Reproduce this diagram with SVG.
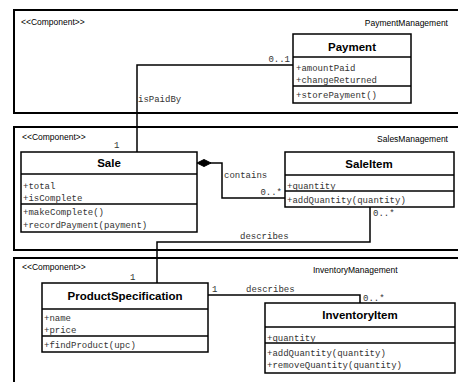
<svg xmlns="http://www.w3.org/2000/svg" width="458" height="382" viewBox="0 0 458 382">
<style>
.comp{fill:#fff;stroke:#000;stroke-width:2}
.cls{fill:#fff;stroke:#000;stroke-width:1.5}
.sep{stroke:#000;stroke-width:1.5}
.st{font-family:"Liberation Sans",Arial,sans-serif;font-size:8.5px;fill:#000}
.nm{font-family:"Liberation Sans",Arial,sans-serif;font-size:11.5px;font-weight:bold;fill:#000;text-anchor:middle}
.at{font-family:"Liberation Mono","Courier New",monospace;font-size:9px;fill:#333}
.lbl{font-family:"Liberation Mono","Courier New",monospace;font-size:9px;fill:#333}
.ln{fill:none;stroke:#000;stroke-width:1.5}
</style>
<g id="PaymentManagement">
<rect class="comp" x="14" y="10" width="460" height="103"/>
<text class="st" x="21" y="25">&lt;&lt;Component&gt;&gt;</text>
<text class="st" x="448" y="26" text-anchor="end">PaymentManagement</text>
</g>
<g id="SalesManagement">
<rect class="comp" x="14" y="127" width="460" height="123"/>
<text class="st" x="22" y="140">&lt;&lt;Component&gt;&gt;</text>
<text class="st" x="448" y="142" text-anchor="end">SalesManagement</text>
</g>
<g id="InventoryManagement">
<rect class="comp" x="14" y="258" width="460" height="140"/>
<text class="st" x="22" y="270">&lt;&lt;Component&gt;&gt;</text>
<text class="st" x="313" y="273">InventoryManagement</text>
</g>
<g id="connectors">
<polyline class="ln" points="293,65 137,65 137,152"/>
<text class="lbl" x="290" y="62" text-anchor="end">0..1</text>
<text class="lbl" x="138" y="102">isPaidBy</text>
<text class="lbl" x="114" y="148">1</text>
<polyline class="ln" points="210,163 222,163 222,198 285,198"/>
<polygon points="197,163 204,159.5 211,163 204,166.5" fill="#000" stroke="#000" stroke-width="1"/>
<text class="lbl" x="224" y="178">contains</text>
<text class="lbl" x="282" y="195" text-anchor="end">0..*</text>
<polyline class="ln" points="370,207 370,242 157,242 157,283"/>
<text class="lbl" x="373" y="216">0..*</text>
<text class="lbl" x="240" y="239">describes</text>
<text class="lbl" x="130" y="280">1</text>
<polyline class="ln" points="208,295 360,295 360,303"/>
<text class="lbl" x="212" y="292">1</text>
<text class="lbl" x="246" y="292">describes</text>
<text class="lbl" x="363" y="301">0..*</text>
</g>
<g id="Payment">
<rect class="cls" x="293" y="34" width="118" height="69"/>
<line class="sep" x1="293" y1="57" x2="411" y2="57"/>
<line class="sep" x1="293" y1="86" x2="411" y2="86"/>
<text class="nm" x="352" y="51">Payment</text>
<text class="at" x="296" y="71">+amountPaid</text>
<text class="at" x="296" y="83">+changeReturned</text>
<text class="at" x="296" y="98">+storePayment()</text>
</g>
<g id="Sale">
<rect class="cls" x="21" y="152" width="176" height="80"/>
<line class="sep" x1="21" y1="174" x2="197" y2="174"/>
<line class="sep" x1="21" y1="204" x2="197" y2="204"/>
<text class="nm" x="109" y="167">Sale</text>
<text class="at" x="23" y="189">+total</text>
<text class="at" x="23" y="201">+isComplete</text>
<text class="at" x="23" y="215">+makeComplete()</text>
<text class="at" x="23" y="228">+recordPayment(payment)</text>
</g>
<g id="SaleItem">
<rect class="cls" x="285" y="152" width="169" height="55"/>
<line class="sep" x1="285" y1="175" x2="454" y2="175"/>
<line class="sep" x1="285" y1="191" x2="454" y2="191"/>
<text class="nm" x="369" y="168">SaleItem</text>
<text class="at" x="287" y="189">+quantity</text>
<text class="at" x="287" y="203">+addQuantity(quantity)</text>
</g>
<g id="ProductSpecification">
<rect class="cls" x="42" y="283" width="166" height="69"/>
<line class="sep" x1="42" y1="309" x2="208" y2="309"/>
<line class="sep" x1="42" y1="336" x2="208" y2="336"/>
<text class="nm" x="125" y="300">ProductSpecification</text>
<text class="at" x="44" y="321">+name</text>
<text class="at" x="44" y="333">+price</text>
<text class="at" x="44" y="348">+findProduct(upc)</text>
</g>
<g id="InventoryItem">
<rect class="cls" x="265" y="303" width="190" height="70"/>
<line class="sep" x1="265" y1="327" x2="455" y2="327"/>
<line class="sep" x1="265" y1="343" x2="455" y2="343"/>
<text class="nm" x="360" y="319">InventoryItem</text>
<text class="at" x="267" y="341">+quantity</text>
<text class="at" x="267" y="356">+addQuantity(quantity)</text>
<text class="at" x="267" y="368">+removeQuantity(quantity)</text>
</g>
</svg>
